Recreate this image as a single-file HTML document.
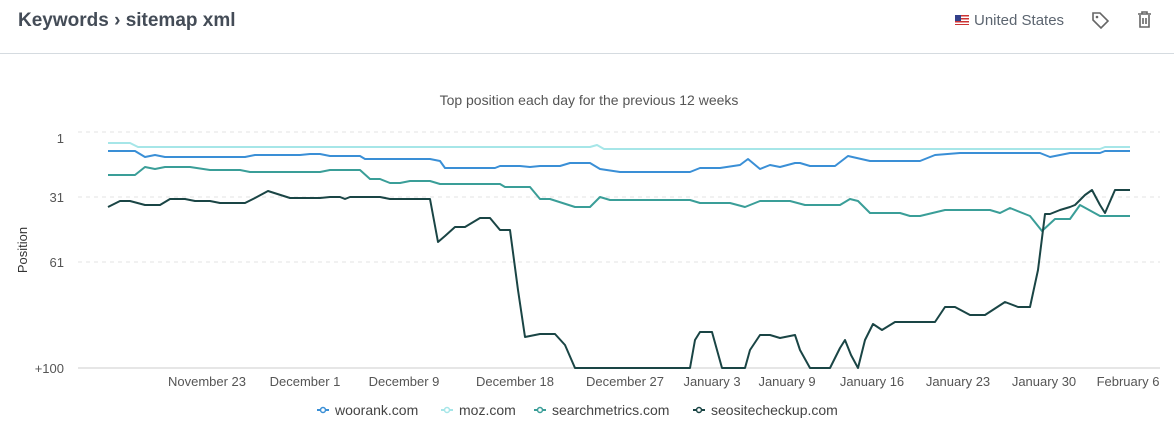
<!DOCTYPE html>
<html><head><style>
body{margin:0;width:1174px;height:433px;background:#fff;font-family:"Liberation Sans",sans-serif;overflow:hidden}
.hdr{position:absolute;left:0;top:0;width:1174px;height:53px;border-bottom:1px solid #d5dbe0}
.t{position:absolute;left:18px;top:10px;font-size:19px;color:#444c57;font-weight:bold}
</style></head><body>
<div class="hdr"><div class="t">Keywords &#8250; sitemap xml</div>
<div style="position:absolute;left:955px;top:15px;width:14px;height:10px;background:repeating-linear-gradient(#c33 0 1.5px,#fff 1.5px 3px)"><div style="width:6px;height:6px;background:#33408a"></div></div>
<div style="position:absolute;left:974px;top:12px;font-size:15px;color:#5c6570">United States</div>
<svg style="position:absolute;left:1090px;top:10px" width="20" height="20"><path d="M3 3h7l8 8-7 7-8-8z" fill="none" stroke="#666" stroke-width="1.6"/><circle cx="7" cy="7" r="1.3" fill="#666"/></svg>
<svg style="position:absolute;left:1136px;top:10px" width="18" height="20"><path d="M2 4h13M6 4V2h5v2M4 5v12h9V5M7 8v6M10 8v6" fill="none" stroke="#666" stroke-width="1.6"/></svg>
</div>
<svg style="position:absolute;left:0;top:0" width="1174" height="433" font-family="Liberation Sans, sans-serif">
<text x="589" y="105" font-size="14" fill="#555" text-anchor="middle">Top position each day for the previous 12 weeks</text>
<g stroke="#e3e3e3" stroke-dasharray="4,4"><line x1="78" x2="1160" y1="132" y2="132"/><line x1="78" x2="1160" y1="197" y2="197"/><line x1="78" x2="1160" y1="262" y2="262"/></g>
<line x1="78" x2="1160" y1="368" y2="368" stroke="#ccc"/>
<g font-size="13" fill="#555" text-anchor="end"><text x="64" y="143">1</text><text x="64" y="202">31</text><text x="64" y="267">61</text><text x="64" y="373">+100</text></g>
<text transform="translate(27,250) rotate(-90)" font-size="13" fill="#333" text-anchor="middle">Position</text>
<g font-size="13" fill="#555" text-anchor="middle"><text x="207" y="386">November 23</text><text x="305" y="386">December 1</text><text x="404" y="386">December 9</text><text x="515" y="386">December 18</text><text x="625" y="386">December 27</text><text x="712" y="386">January 3</text><text x="787" y="386">January 9</text><text x="872" y="386">January 16</text><text x="958" y="386">January 23</text><text x="1044" y="386">January 30</text><text x="1128" y="386">February 6</text></g>
<g fill="none" stroke-width="2" stroke-linejoin="round">
<polyline stroke="#a6e6e8" points="108,143 130,143 138,147 590,147 597,145 604,149 1100,149 1105,147 1130,147"/>
<polyline stroke="#3a8fd6" points="108,151 135,151 145,157 155,155 165,157 245,157 255,155 300,155 310,154 320,154 330,156 360,156 365,159 430,159 440,161 445,168 495,168 500,166 520,166 530,167 540,166 560,166 570,163 590,163 600,169 620,172 690,172 700,168 720,168 740,165 748,159 760,169 770,165 780,167 795,163 800,163 810,166 835,166 848,156 870,161 920,161 935,155 960,153 1040,153 1050,157 1070,153 1100,153 1105,151 1130,151"/>
<polyline stroke="#3a9e98" points="108,175 135,175 145,167 155,169 165,167 190,167 210,170 240,170 250,172 320,172 330,170 360,170 370,179 380,179 390,183 400,183 410,181 430,181 440,184 500,184 505,187 530,187 540,199 550,199 575,207 590,207 600,197 610,200 690,200 700,203 730,203 745,207 760,201 790,201 805,205 840,205 850,199 858,201 870,213 900,213 910,216 920,216 945,210 990,210 1000,213 1010,208 1030,216 1042,231 1055,219 1070,219 1080,205 1100,216 1130,216"/>
<polyline stroke="#1a4545" points="108,207 120,201 130,201 145,205 160,205 170,199 185,199 195,201 210,201 220,203 245,203 255,198 268,191 290,198 320,198 330,197 340,197 345,199 350,197 380,197 390,199 430,199 438,242 445,236 455,227 465,227 480,218 490,218 500,230 510,230 518,290 525,337 540,334 555,334 565,345 575,368 690,368 695,340 700,332 712,332 717,350 722,368 745,368 750,350 760,335 770,335 780,338 795,335 800,350 810,368 830,368 840,348 845,340 851,355 858,368 865,340 873,324 882,330 895,322 935,322 945,307 955,307 970,315 985,315 1005,302 1018,307 1030,307 1038,270 1045,214 1050,214 1060,210 1070,207 1075,205 1085,195 1092,190 1100,205 1105,213 1115,190 1130,190"/>
</g>
<g font-size="14" fill="#444">
<line x1="317" x2="329" y1="410" y2="410" stroke="#3a8fd6" stroke-width="2"/><circle cx="323" cy="410" r="2.5" fill="#fff" stroke="#3a8fd6" stroke-width="1.5"/><text x="335" y="415">woorank.com</text>
<line x1="441" x2="453" y1="410" y2="410" stroke="#a6e6e8" stroke-width="2"/><circle cx="447" cy="410" r="2.5" fill="#fff" stroke="#a6e6e8" stroke-width="1.5"/><text x="459" y="415">moz.com</text>
<line x1="534" x2="546" y1="410" y2="410" stroke="#3a9e98" stroke-width="2"/><circle cx="540" cy="410" r="2.5" fill="#fff" stroke="#3a9e98" stroke-width="1.5"/><text x="552" y="415">searchmetrics.com</text>
<line x1="693" x2="705" y1="410" y2="410" stroke="#1a4545" stroke-width="2"/><circle cx="699" cy="410" r="2.5" fill="#fff" stroke="#1a4545" stroke-width="1.5"/><text x="711" y="415">seositecheckup.com</text>
</g>
</svg>
</body></html>
